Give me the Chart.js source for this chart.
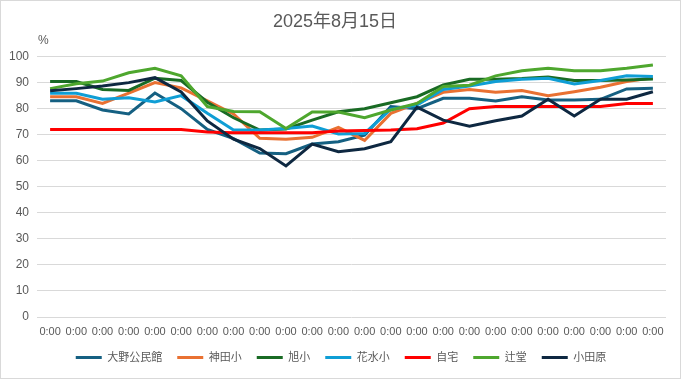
<!DOCTYPE html>
<html><head><meta charset="utf-8">
<script src="https://cdn.jsdelivr.net/npm/chart.js@4/dist/chart.umd.min.js"></script>
<style>html,body{margin:0;padding:0;background:#fff}#wrap{width:681px;height:379px;position:relative}</style>
</head><body><div id="wrap"><canvas id="c" width="681" height="379"></canvas></div>
<script>
const titleText = "2025年8月15日";
const unitLabel = "%";
const categories = ["0:00","0:00","0:00","0:00","0:00","0:00","0:00","0:00","0:00","0:00","0:00","0:00","0:00","0:00","0:00","0:00","0:00","0:00","0:00","0:00","0:00","0:00","0:00","0:00"];
const seriesNames = ["大野公民館","神田小","旭小","花水小","自宅","辻堂","小田原"];
const ohno    = [83, 83, 79.5, 78, 86, 80, 72, 68.5, 63, 62.7, 66.4, 67.3, 69.8, 80.8, 80, 84, 84, 83, 84.6, 83.3, 83.3, 83.6, 87.6, 87.8];
const kanda   = [84.6, 84.6, 82, 86, 90, 88, 83, 78, 68.6, 68.3, 69, 72.8, 67.8, 78.2, 82, 86.3, 87.4, 86.3, 87, 85, 86.5, 88.2, 90.4, 91.9];
const asahi   = [90.4, 90.4, 87.4, 87, 91.7, 90.8, 82.5, 76.5, 71.8, 72.2, 75.6, 78.8, 80, 82.3, 84.6, 89.1, 91.3, 91.3, 91.6, 92.2, 90.8, 90.8, 91, 91.4];
const hanamizu= [85.9, 85.9, 83.6, 84.2, 82.6, 85, 78.2, 71.8, 71.8, 72.4, 73.3, 70.3, 70.5, 79.8, 81.4, 87.4, 88.7, 90.4, 91.3, 91.7, 89.5, 90.8, 92.6, 92.4];
const jitaku  = [72, 72, 72, 72, 72, 72, 71, 70.8, 70.8, 70.8, 70.8, 71.4, 71.6, 71.8, 72.3, 74.5, 80, 80.8, 80.8, 80.8, 80.8, 80.8, 82, 82];
const tsujido = [87.7, 89.6, 90.6, 93.8, 95.5, 92.6, 80.8, 78.9, 78.8, 72.4, 78.7, 78.7, 76.5, 79.5, 82, 88.5, 89, 92.6, 94.6, 95.5, 94.6, 94.6, 95.5, 96.8];
const odawara = [86.9, 87.7, 88.7, 90, 91.9, 86.4, 75.3, 68.3, 64.7, 58, 66.4, 63.5, 64.6, 67.3, 80.6, 75.6, 73.3, 75.4, 77.2, 83.6, 77.2, 83.6, 83.6, 86.5];
const yTicks = [0,10,20,30,40,50,60,70,80,90,100];

const seriesValues = [ohno, kanda, asahi, hanamizu, jitaku, tsujido, odawara];
const colors = ["#156082","#E97132","#196B24","#0F9ED5","#FF0000","#4EA72E","#0E2841"];
const FONT = "'Liberation Sans', 'Noto Sans CJK JP', sans-serif";
const TXT = "#595959";

const datasets = seriesNames.map((n, i) => ({
  label: n,
  data: seriesValues[i],
  borderColor: colors[i],
  backgroundColor: colors[i],
  borderWidth: 3,
  pointRadius: 0,
  pointHoverRadius: 0,
  tension: 0,
  fill: false,
  order: seriesNames.length - i
}));

const extras = {
  id: 'extras',
  afterLayout(chart) {
    if (chart.legend) { chart.legend.left += 6; chart.legend.right += 6; }
  },
  afterDraw(chart) {
    const ctx = chart.ctx;
    ctx.save();
    ctx.strokeStyle = '#d9d9d9';
    ctx.lineWidth = 1;
    ctx.strokeRect(0.5, 0.5, 680, 378);
    ctx.fillStyle = TXT;
    ctx.font = "12px " + FONT;
    ctx.textAlign = 'left';
    ctx.textBaseline = 'middle';
    ctx.fillText(unitLabel, 38, 41);
    ctx.restore();
  }
};

new Chart(document.getElementById('c'), {
  type: 'line',
  data: { labels: categories, datasets },
  plugins: [extras],
  options: {
    responsive: false,
    animation: false,
    events: [],
    layout: { padding: { left: 4, right: 15, top: 0, bottom: 6 } },
    plugins: {
      title: {
        display: true, text: titleText, color: TXT,
        font: { family: FONT, size: 18, weight: 'normal' },
        padding: { top: 11, bottom: 24 }
      },
      legend: {
        position: 'bottom',
        labels: {
          font: { family: FONT, size: 11 }, color: TXT,
          boxWidth: 26, boxHeight: 3, padding: 15,
          sort: (a, b) => a.datasetIndex - b.datasetIndex,
          generateLabels(chart) {
            const items = Chart.defaults.plugins.legend.labels.generateLabels(chart);
            items.forEach(it => { it.lineWidth = 0; });
            return items;
          }
        }
      },
      tooltip: { enabled: false }
    },
    scales: {
      x: {
        offset: true,
        afterFit(s) { s.height = 20; },
        grid: { display: false, drawTicks: false },
        border: { display: false },
        ticks: { color: TXT, font: { family: FONT, size: 11 }, maxRotation: 0, autoSkip: false, padding: 8 }
      },
      y: {
        min: 0, max: 100,
        afterFit(s) { s.width = 33; },
        afterBuildTicks(s) { s.ticks = yTicks.map(v => ({ value: v })); },
        grid: { color: '#d9d9d9', drawTicks: false, lineWidth: 1 },
        border: { display: false },
        ticks: { color: TXT, font: { family: FONT, size: 12 }, padding: 8 }
      }
    }
  }
});
</script></body></html>
